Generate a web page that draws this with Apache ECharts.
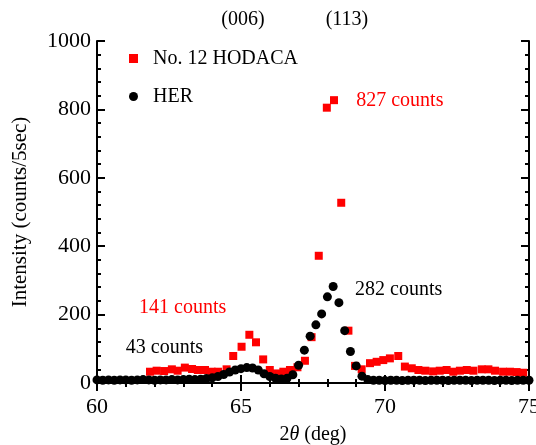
<!DOCTYPE html>
<html>
<head>
<meta charset="utf-8">
<title>HODACA vs HER</title>
<script src="https://cdn.jsdelivr.net/npm/echarts@6/dist/echarts.min.js"></script>
<style>
  html, body { margin: 0; padding: 0; background: #fff; }
  #main { width: 536px; height: 445px; }
</style>
</head>
<body>
<div id="main"></div>
<script>
// No. 12 HODACA (red squares)
var hodacaX = [61.84, 62.07, 62.33, 62.6, 62.8, 63.05, 63.3, 63.5, 63.75, 63.98, 64.2, 64.5, 64.73,
  65.02, 65.29, 65.52, 65.77, 66.0, 66.24, 66.47, 66.7, 66.96, 67.22, 67.45, 67.7, 67.98, 68.23,
  68.48, 68.73, 68.96, 69.19, 69.48, 69.71, 69.94, 70.17, 70.46, 70.69, 70.93, 71.16, 71.4, 71.67,
  71.9, 72.14, 72.37, 72.6, 72.84, 73.07, 73.36, 73.59, 73.82, 74.1, 74.34, 74.57, 74.8];
var hodacaY = [33, 36, 35, 40, 36, 45, 41, 38, 38, 33, 33, 40, 79,
  106, 141, 119, 69, 38, 28, 33, 38, 46, 65, 134, 372, 805, 827,
  527, 153, 50, 40, 58, 62, 67, 72, 79, 48, 43, 38, 36, 34,
  36, 38, 33, 36, 38, 36, 40, 40, 36, 33, 33, 32, 30];

// HER (black circles)
var herX = [60.0, 60.2, 60.4, 60.6, 60.8, 61.0, 61.2, 61.4, 61.6, 61.8, 62.0, 62.2, 62.4, 62.6, 62.8,
  63.0, 63.2, 63.4, 63.6, 63.8, 64.0, 64.2, 64.4, 64.6, 64.8, 65.0, 65.2, 65.4, 65.6, 65.8,
  66.0, 66.2, 66.4, 66.6, 66.8, 67.0, 67.2, 67.4, 67.6, 67.8, 68.0, 68.2, 68.4, 68.6, 68.8,
  69.0, 69.2, 69.4, 69.6, 69.8, 70.0, 70.2, 70.4, 70.6, 70.8, 71.0, 71.2, 71.4, 71.6, 71.8,
  72.0, 72.2, 72.4, 72.6, 72.8, 73.0, 73.2, 73.4, 73.6, 73.8, 74.0, 74.2, 74.4, 74.6, 74.8, 75.0];
var herY = [9, 8, 9, 8, 9, 9, 8, 9, 10, 9, 8, 9, 9, 10, 9,
  10, 11, 10, 11, 13, 15, 19, 25, 32, 38, 42, 45, 44, 38, 27,
  19, 14, 12, 14, 24, 52, 96, 137, 170, 202, 252, 282, 235, 153, 92,
  50, 20, 10, 8, 8, 7, 8, 8, 7, 8, 8, 8, 7, 8, 8,
  8, 7, 8, 8, 8, 7, 8, 8, 8, 7, 8, 8, 7, 8, 8, 8];

// text notes: [x, y, text, color]
var notes = [
  [69.0, 825, '827 counts', '#ff0000'],
  [68.96, 272, '282 counts', '#000000'],
  [61.46, 219, '141 counts', '#ff0000'],
  [61.0, 102, '43 counts', '#000000']
];
// reflection labels above the frame
var peakLabels = [[65.07, '(006)'], [68.68, '(113)']];

var FONT = '"Liberation Serif", "Times New Roman", serif';

function pairs(xs, ys) {
  return xs.map(function (x, i) { return [x, ys[i]]; });
}

var myChart = echarts.init(document.getElementById('main'));

var axisLine = { show: true, lineStyle: { color: '#000', width: 2 } };
var xCommon = {
  type: 'value', min: 60, max: 75, interval: 5,
  axisLine: axisLine,
  axisTick: { inside: true, length: 8, lineStyle: { color: '#000', width: 2 } },
  minorTick: { show: true, splitNumber: 5, length: 4, lineStyle: { color: '#000', width: 2 } },
  splitLine: { show: false }
};
var yCommon = {
  type: 'value', min: 0, max: 1000, interval: 200,
  axisLine: axisLine,
  axisTick: { inside: true, length: 8, lineStyle: { color: '#000', width: 2 } },
  minorTick: { show: true, splitNumber: 5, length: 4, lineStyle: { color: '#000', width: 2 } },
  splitLine: { show: false }
};

var option = {
  backgroundColor: '#fff',
  animation: false,
  grid: { left: 97, right: 7, top: 41, bottom: 62, outerBoundsMode: 'none', containLabel: false },
  legend: {
    orient: 'vertical',
    left: 124, top: 43,
    itemWidth: 9, itemHeight: 9, itemGap: 17,
    data: [
      { name: 'No. 12 HODACA', icon: 'rect' },
      { name: 'HER', icon: 'circle' }
    ],
    textStyle: { fontFamily: FONT, fontSize: 20, color: '#000', padding: [0, 0, 0, 10], lineHeight: 21 }
  },
  xAxis: [
    Object.assign({}, xCommon, {
      position: 'bottom',
      name: '{n|2}{t|θ}{n| (deg)}',
      nameLocation: 'middle', nameGap: 42,
      nameTextStyle: {
        rich: {
          n: { fontFamily: FONT, fontSize: 20, color: '#000' },
          t: { fontFamily: FONT, fontSize: 20, color: '#000', fontStyle: 'italic' }
        }
      },
      axisLabel: { fontFamily: FONT, fontSize: 22, color: '#000', margin: 13 }
    }),
    Object.assign({}, xCommon, { position: 'top', axisLabel: { show: false } })
  ],
  yAxis: [
    Object.assign({}, yCommon, {
      position: 'left',
      name: 'Intensity (counts/5sec)',
      nameLocation: 'middle', nameGap: 66, nameRotate: 90,
      nameTextStyle: { fontFamily: FONT, fontSize: 21, color: '#000' },
      axisLabel: {
        fontFamily: FONT, fontSize: 22, color: '#000', margin: 6,
        formatter: function (v) { return String(v); }
      }
    }),
    Object.assign({}, yCommon, { position: 'right', axisLabel: { show: false } })
  ],
  series: [
    {
      name: 'No. 12 HODACA', type: 'scatter', symbol: 'rect', symbolSize: 8,
      itemStyle: { color: '#ff0000', opacity: 1 },
      data: pairs(hodacaX, hodacaY)
    },
    {
      name: 'HER', type: 'scatter', symbol: 'circle', symbolSize: 9,
      itemStyle: { color: '#000000', opacity: 1 },
      data: pairs(herX, herY)
    }
  ]
};
myChart.setOption(option);

// place notes from data coordinates
var graphics = notes.map(function (n) {
  var p = myChart.convertToPixel({ xAxisIndex: 0, yAxisIndex: 0 }, [n[0], n[1]]);
  return {
    type: 'text', x: p[0], y: p[1],
    style: { text: n[2], fill: n[3], font: '20px ' + FONT, textVerticalAlign: 'middle' }
  };
});
peakLabels.forEach(function (l) {
  var p = myChart.convertToPixel({ xAxisIndex: 0, yAxisIndex: 0 }, [l[0], 1000]);
  graphics.push({
    type: 'text', x: p[0], y: 20,
    style: { text: l[1], fill: '#000', font: '20px ' + FONT, textAlign: 'center', textVerticalAlign: 'middle' }
  });
});
myChart.setOption({ graphic: graphics });
</script>
</body>
</html>
